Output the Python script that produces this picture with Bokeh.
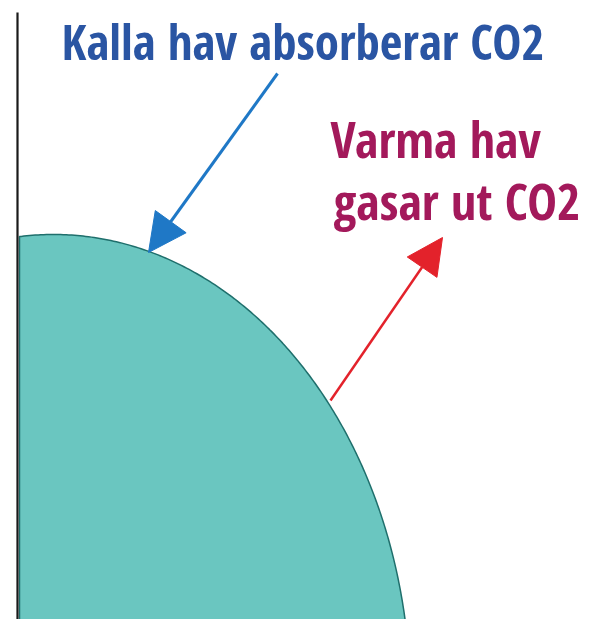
import numpy as np
from bokeh.plotting import figure
from bokeh.models import Range1d, Arrow, NormalHead
from bokeh.core.properties import value
from bokeh.embed import file_html
from bokeh.resources import INLINE

# --- content (illustration values, in page pixel units) ---
cold_label = ["Kalla hav absorberar CO2"]
warm_labels = ["Varma hav", "gasar ut CO2"]

ocean_center = [53, 700]      # centre of the ocean bulge
ocean_radii = [357, 466]      # horizontal / vertical semi-axes
ocean_left = 19               # left edge of the ocean body
ocean_bottom = 640

axis_x = [17, 17]
axis_y = [12, 640]

cold_arrow = [277, 73, 148, 252]   # x_start, y_start, x_end, y_end
warm_arrow = [330, 400, 442, 237]

FONT = "Open Sans Condensed"

p = figure(width=590, height=619, output_backend="svg", toolbar_location=None,
           x_range=Range1d(0, 590), y_range=Range1d(619, 0),
           min_border=0, border_fill_color="white", background_fill_color="white")
p.axis.visible = False
p.grid.visible = False
p.outline_line_color = None

# ocean body (part of an ellipse)
cx, cy = ocean_center
a, b = ocean_radii
t = np.linspace(np.pi, 0, 400)
xs = cx + a * np.cos(t)
ys = cy - b * np.sin(t)
mask = (xs >= ocean_left) & (ys <= ocean_bottom)
xs, ys = xs[mask], ys[mask]
y_left = cy - b * np.sqrt(max(0.0, 1 - ((ocean_left - cx) / a) ** 2))
px = np.concatenate([[ocean_left, ocean_left], xs, [xs[-1]]])
py = np.concatenate([[ocean_bottom, y_left], ys, [ocean_bottom]])
p.patch(px, py, fill_color="#6ac6c0", line_color="#1f6f6c", line_width=1.5)

# vertical axis-like line
p.line(axis_x, axis_y, line_color="#1a1a1a", line_width=2.2)

# arrows
p.add_layout(Arrow(x_start=cold_arrow[0], y_start=cold_arrow[1],
                   x_end=cold_arrow[2], y_end=cold_arrow[3],
                   line_color="#1f78c6", line_width=3,
                   end=NormalHead(size=38, fill_color="#1f78c6", line_color="#1f78c6", line_width=1)))
p.add_layout(Arrow(x_start=warm_arrow[0], y_start=warm_arrow[1],
                   x_end=warm_arrow[2], y_end=warm_arrow[3],
                   line_color="#e3222b", line_width=2.5,
                   end=NormalHead(size=36, fill_color="#e3222b", line_color="#e3222b", line_width=1)))

# labels
p.text(x=[61], y=[40], text=cold_label, text_font=value(FONT), text_font_style="bold",
       text_font_size="49px", text_color="#2a55a3", text_baseline="alphabetic", text_align="left")
p.text(x=[330, 333], y=[138, 200], text=warm_labels, text_font=value(FONT), text_font_style="bold",
       text_font_size="50px", text_color="#a3195b", text_baseline="alphabetic", text_align="left")

open("out.html", "w").write(file_html(p, INLINE))
